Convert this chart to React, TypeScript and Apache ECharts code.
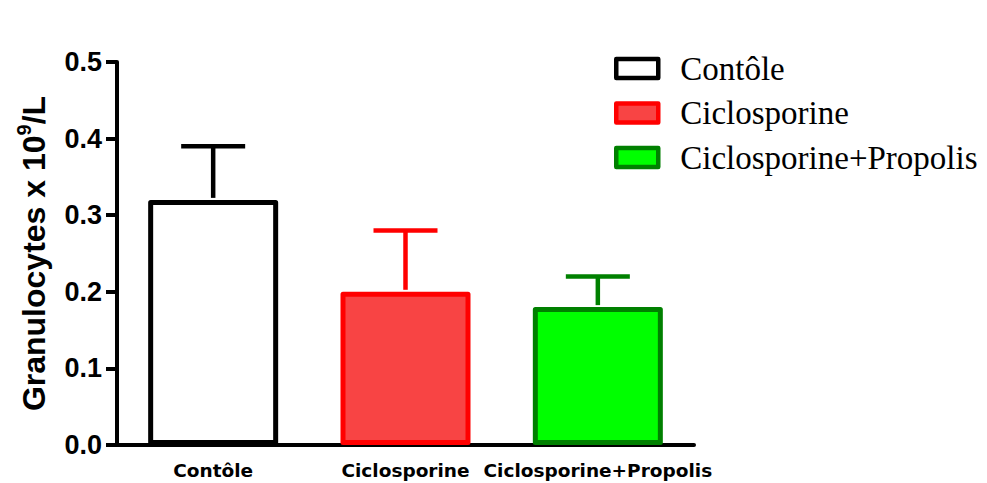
import React, { useEffect, useRef } from "react";
import * as echarts from "echarts";

// Groups, mean granulocyte counts and the tops of their error bars (x 10^9/L)
const categories = ["Contôle", "Ciclosporine", "Ciclosporine+Propolis"];
const means = [0.32, 0.2, 0.18];
const errorTops = [0.39, 0.28, 0.22];
const yTicks = { min: 0, max: 0.5, interval: 0.1 };

const fills = ["#FFFFFF", "#F84444", "#00FF00"];
const borders = ["#000000", "#FF0000", "#008000"];

const SANS = "'Liberation Sans', Arial, sans-serif";
const DEJAVU = "'DejaVu Sans', sans-serif";
const SERIF = "'Liberation Serif', 'Times New Roman', serif";

export default function App() {
  const ref = useRef<HTMLDivElement>(null);

  useEffect(() => {
    if (!ref.current) return;
    const chart = echarts.init(ref.current, null, { renderer: "svg" });

    const barSeries = categories.map((name, i) => ({
      name,
      type: "bar",
      barWidth: 130,
      barGap: "-100%",
      data: categories.map((_, j) => (j === i ? means[j] : "-")),
      itemStyle: {
        color: fills[i],
        borderColor: borders[i],
        borderWidth: 5,
        borderJoin: "round",
      },
      z: 2,
    }));

    const errorSeries = {
      type: "custom",
      name: "errors",
      z: 3,
      data: categories.map((_, i) => [i, means[i], errorTops[i]]),
      renderItem: (params: any, api: any) => {
        const idx = api.value(0);
        const base = api.coord([idx, api.value(1)]);
        const top = api.coord([idx, api.value(2)]);
        const half = 32;
        const color = borders[idx];
        return {
          type: "group",
          children: [
            {
              type: "line",
              shape: { x1: top[0], y1: top[1], x2: base[0], y2: base[1] - 2 },
              style: { stroke: color, lineWidth: 4.5 },
            },
            {
              type: "line",
              shape: { x1: top[0] - half, y1: top[1], x2: top[0] + half, y2: top[1] },
              style: { stroke: color, lineWidth: 4.5 },
            },
          ],
        };
      },
    };

    chart.setOption({
      animation: false,
      backgroundColor: "#FFFFFF",
      grid: { left: 117, right: 293, top: 62, bottom: 38, containLabel: false },
      legend: {
        orient: "vertical",
        left: 614,
        top: 52,
        padding: 0,
        icon: "rect",
        itemWidth: 42,
        itemHeight: 19,
        itemGap: 11.5,
        data: categories,
        itemStyle: { borderWidth: 4.5 },
        textStyle: {
          fontFamily: SERIF,
          fontSize: 33,
          color: "#000000",
          lineHeight: 26,
          padding: [0, 0, 0, 17],
        },
        selectedMode: false,
      },
      xAxis: {
        type: "category",
        data: categories,
        axisLine: { lineStyle: { color: "#000000", width: 4 } },
        axisTick: {
          alignWithLabel: true,
          length: 10,
          lineStyle: { color: "#000000", width: 4 },
        },
        axisLabel: {
          interval: 0,
          margin: 16,
          fontFamily: DEJAVU,
          fontWeight: "bold",
          fontSize: 18.5,
          color: "#000000",
        },
      },
      yAxis: {
        type: "value",
        min: yTicks.min,
        max: yTicks.max,
        interval: yTicks.interval,
        name: "Granulocytes x 10{sup|9}/L",
        nameLocation: "middle",
        nameRotate: 90,
        nameGap: 63,
        nameTextStyle: {
          fontFamily: SANS,
          fontWeight: "bold",
          fontSize: 32,
          color: "#000000",
          rich: {
            sup: {
              fontFamily: SANS,
              fontWeight: "bold",
              fontSize: 20,
              color: "#000000",
              padding: [0, 0, 20, 0],
            },
          },
        },
        axisLine: { show: true, lineStyle: { color: "#000000", width: 4 } },
        axisTick: { show: true, length: 11, lineStyle: { color: "#000000", width: 4 } },
        splitLine: { show: false },
        axisLabel: {
          margin: 15,
          fontFamily: SANS,
          fontWeight: "bold",
          fontSize: 27,
          color: "#000000",
          formatter: (v: number) => v.toFixed(1),
        },
      },
      series: [...barSeries, errorSeries],
    });

    return () => chart.dispose();
  }, []);

  return (
    <div
      ref={ref}
      style={{ position: "fixed", left: 0, top: 0, width: 987, height: 483 }}
    />
  );
}
